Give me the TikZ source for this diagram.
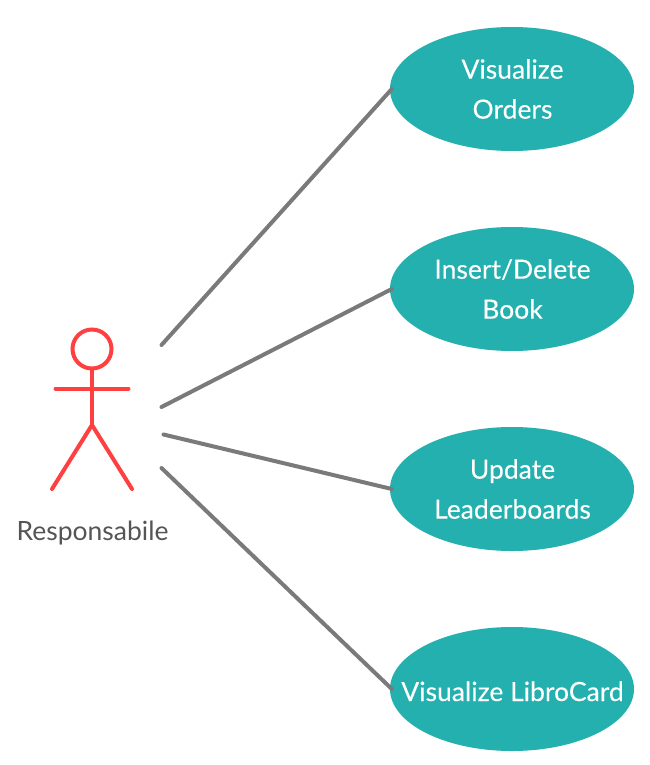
\documentclass[tikz,border=0pt]{standalone}
\usepackage{fontspec}
\setmainfont{Lato}[FakeBold=0.12,AutoFakeBold=false]
\newfontfamily\plainlato{Lato}
\usetikzlibrary{shapes.geometric}
\definecolor{teal1}{HTML}{24B0AF}
\definecolor{gray1}{HTML}{7A7A7A}
\definecolor{red1}{HTML}{FF4040}
\definecolor{label1}{HTML}{555555}
\newcommand{\uclabel}[1]{\hspace*{1pt}\makebox[0pt][c]{#1}}
\tikzset{
  usecase/.style={ellipse,fill=teal1,inner sep=0pt,minimum width=244pt,minimum height=124pt,text=white,align=center,font=\fontsize{26.5}{40}\selectfont},
  link/.style={draw=gray1,line width=4pt,line cap=round},
  actorline/.style={draw=red1,line width=4pt,line cap=round,line join=round},
}
\begin{document}
\begin{tikzpicture}[x=1pt,y=-1pt]
\useasboundingbox (0,0) rectangle (649,765);
\node[usecase] (u1) at (512,89) {\uclabel{Visualize}\\\uclabel{Orders}};
\node[usecase] (u2) at (512,289) {\uclabel{Insert/Delete}\\\uclabel{Book}};
\node[usecase] (u3) at (512,489) {\uclabel{Update}\\\uclabel{Leaderboards}};
\node[usecase] (u4) at (512,689) {\uclabel{\raisebox{-12pt}[0pt][0pt]{Visualize LibroCard}}};
\coordinate (s1) at (161.5,345);
\coordinate (s2) at (161.5,407);
\coordinate (s3) at (163.5,434.5);
\coordinate (s4) at (161.5,468);
\draw[link] (s1) -- ([xshift=2pt]u1.west);
\draw[link] (s2) -- ([xshift=2pt]u2.west);
\draw[link] (s3) -- ([xshift=2pt]u3.west);
\draw[link] (s4) -- ([xshift=2pt]u4.west);
\node[circle,draw=red1,line width=4pt,minimum size=39pt,inner sep=0pt] (head) at (92,349) {};
\coordinate (hip) at (92,425);
\coordinate (armL) at (55.5,388.5);
\coordinate (armR) at (128.5,388.5);
\coordinate (legL) at (52,489);
\coordinate (legR) at (132,489);
\draw[actorline] (head.south) -- (hip);
\draw[actorline] (armL) -- (armR);
\draw[actorline] (legL) -- (hip) -- (legR);
\node[text=label1,font=\plainlato\fontsize{26.5}{30}\selectfont,inner sep=0pt,anchor=base] (actor) at (92.5,540.5) {Responsabile};
\end{tikzpicture}
\end{document}
